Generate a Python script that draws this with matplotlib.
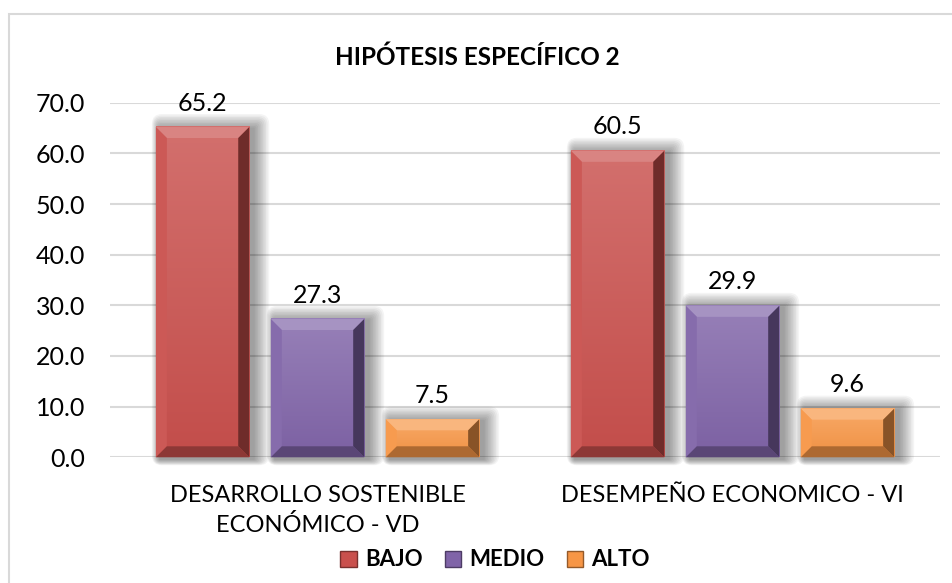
import matplotlib
matplotlib.use("Agg")
import matplotlib.pyplot as plt
import numpy as np
from matplotlib.patches import Polygon, Rectangle, FancyBboxPatch, Patch
from matplotlib.transforms import IdentityTransform
from matplotlib.colors import to_rgb

# ---- data ----
categories = ["DESARROLLO SOSTENIBLE\nECONÓMICO - VD", "DESEMPEÑO ECONOMICO - VI"]
series = ["BAJO", "MEDIO", "ALTO"]
bajo = [65.2, 60.5]
medio = [27.3, 29.9]
alto = [7.5, 9.6]
y_ticks = [0, 10, 20, 30, 40, 50, 60, 70]
title = "HIPÓTESIS ESPECÍFICO 2"

colors = ["#C9504D", "#8064A8", "#F79646"]

plt.rcParams["font.family"] = ["Lato", "DejaVu Sans"]

W, H, DPI = 953, 583, 100
fig = plt.figure(figsize=(W / DPI, H / DPI), dpi=DPI)
ident = IdentityTransform()

# chart-area border (left and top edges fall inside the canvas)
fig.patches.append(Rectangle((9, -10), 960, H - 14 + 10, transform=ident,
                             fill=False, edgecolor="#D9D9D9", linewidth=1.5))

ax = fig.add_axes([110 / W, 1 - 457.3 / H, 830 / W, (457.3 - 102.7) / H])
ax.set_xlim(-0.5, 1.5)
ax.set_ylim(0, 70)
ax.set_yticks(y_ticks)
ax.set_yticklabels([f"{v:.1f}" for v in y_ticks], fontsize=18)
ax.tick_params(axis="y", length=0, pad=18)
ax.set_xticks(range(len(categories)))
ax.set_xticklabels(categories, fontsize=17, linespacing=1.45)
ax.tick_params(axis="x", length=0, pad=20)
for s in ax.spines.values():
    s.set_visible(False)
ax.grid(axis="y", color="#D9D9D9", linewidth=1.5, zorder=0)
ax.set_axisbelow(True)


def mix(c, t, amt):
    c = np.array(to_rgb(c))
    t = np.array(to_rgb(t))
    return tuple(c + (t - c) * amt)


def bevel_bar(x, h, w, base):
    ax.bar(x, h, w, color=base, zorder=3)
    (x0, y0) = ax.transData.transform((x - w / 2, 0))
    (x1, y1) = ax.transData.transform((x + w / 2, h))
    # soft drop shadow
    for k in range(10, 0, -1):
        ax.add_patch(FancyBboxPatch((x0 + 4 - k * 0.2, y0 - 2), (x1 - x0) + k * 1.2, (y1 - y0) + k * 0.9,
                                    boxstyle=f"round,pad={k*0.6},rounding_size={k}",
                                    transform=ident, facecolor="black", edgecolor="none",
                                    alpha=0.045, zorder=2, clip_on=False))
    # face gradient
    grad = np.linspace(0, 1, 64).reshape(-1, 1)
    top_c = np.array(mix(base, "white", 0.18))
    bot_c = np.array(mix(base, "black", 0.03))
    img = top_c[None, None, :] * (1 - grad[:, :, None]) + bot_c[None, None, :] * grad[:, :, None]
    ax.imshow(img, extent=(x - w / 2, x + w / 2, 0, h), origin="upper",
              aspect="auto", zorder=3.5, interpolation="bilinear")
    d = min(11.0, (y1 - y0) / 2.2)
    polys = [
        ([(x0, y1), (x1, y1), (x1 - d, y1 - d), (x0 + d, y1 - d)], mix(base, "white", 0.30)),
        ([(x0, y0), (x0, y1), (x0 + d, y1 - d), (x0 + d, y0 + d)], mix(base, "white", 0.05)),
        ([(x1, y0), (x1, y1), (x1 - d, y1 - d), (x1 - d, y0 + d)], mix(base, "black", 0.45)),
        ([(x0, y0), (x1, y0), (x1 - d, y0 + d), (x0 + d, y0 + d)], mix(base, "black", 0.30)),
    ]
    for pts, c in polys:
        ax.add_patch(Polygon(pts, closed=True, transform=ident, facecolor=c,
                             edgecolor="none", zorder=4, clip_on=False))


width = 0.225
offsets = [-0.277, 0.0, 0.277]
values = [bajo, medio, alto]
for si, (vals, col) in enumerate(zip(values, colors)):
    for ci, v in enumerate(vals):
        bevel_bar(ci + offsets[si], v, width, col)
        ax.annotate(f"{v:.1f}", (ci + offsets[si], v), xytext=(0, 9),
                    textcoords="offset points", ha="center", va="bottom",
                    fontsize=18, zorder=5)

ax.set_xlim(-0.5, 1.5)
ax.set_ylim(0, 70)

fig.text(477 / W, 1 - 57 / H, title, ha="center", va="center",
         fontsize=17.5, fontweight="bold")

handles = [Patch(facecolor=c, edgecolor=mix(c, "black", 0.4)) for c in colors]
fig.legend(handles, series, loc="center", bbox_to_anchor=(495 / W, 1 - 560 / H),
           ncol=3, frameon=False, prop={"size": 16, "weight": "bold"},
           handlelength=0.75, handleheight=0.75, handletextpad=0.35,
           columnspacing=1.0)

fig.savefig("out.png", dpi=DPI)
